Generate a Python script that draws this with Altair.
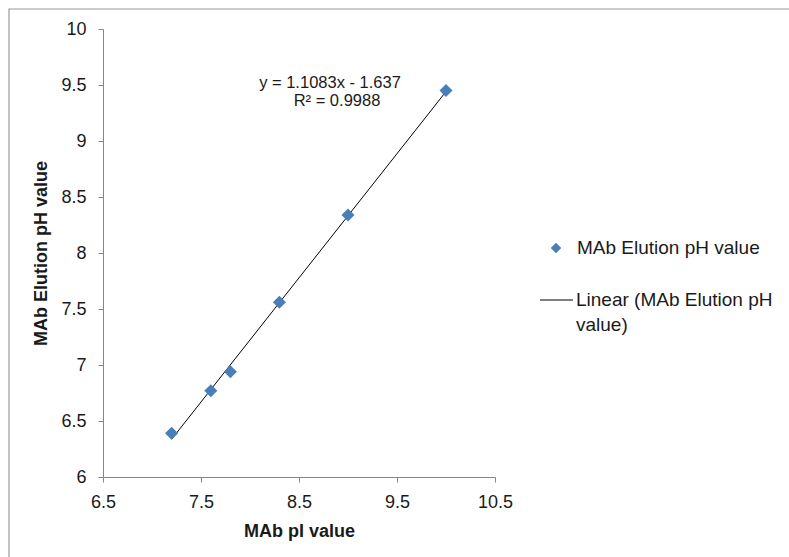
import altair as alt
import pandas as pd

# data
pi_values = [7.2, 7.6, 7.8, 8.3, 9.0, 10.0]
elution_ph = [6.39, 6.77, 6.94, 7.56, 8.34, 9.45]
series_name = "MAb Elution pH value"
trend_name = ["Linear (MAb Elution pH", "value)"]
equation_lines = ["y = 1.1083x - 1.637", "R² = 0.9988"]
x_ticks = [6.5, 7.5, 8.5, 9.5, 10.5]
y_ticks = [6, 6.5, 7, 7.5, 8, 8.5, 9, 9.5, 10]

df = pd.DataFrame({"pI": pi_values, "pH": elution_ph})

FONT = "Liberation Sans"
BLUE = "#4A7EBB"
AXIS_GREY = "#868686"
TXT = "#1a1a1a"

xscale = alt.Scale(domain=[6.5, 10.5], nice=False, zero=False)
yscale = alt.Scale(domain=[6, 10], nice=False, zero=False)

common_axis = dict(grid=False, domainColor=AXIS_GREY, tickColor=AXIS_GREY, tickSize=5,
                   labelFontSize=18, labelFont=FONT, labelColor=TXT,
                   labelFlush=False, labelOverlap=False,
                   titleFontSize=18, titleFont=FONT, titleFontWeight="bold", titleColor=TXT)
xaxis = alt.Axis(values=x_ticks, format="~g", title="MAb pI value", titlePadding=11,
                 labelPadding=11, **common_axis)
yaxis = alt.Axis(values=y_ticks, format="~g", title="MAb Elution pH value", titlePadding=10,
                 labelPadding=12, **common_axis)

base = alt.Chart(df)

points = base.mark_point(shape="diamond", filled=True, size=170, color=BLUE, opacity=1).encode(
    x=alt.X("pI:Q", scale=xscale, axis=xaxis),
    y=alt.Y("pH:Q", scale=yscale, axis=yaxis),
)

trend = base.transform_regression("pI", "pH", extent=[7.2, 10.0]).mark_line(
    color="black", strokeWidth=1
).encode(
    x=alt.X("pI:Q", scale=xscale),
    y=alt.Y("pH:Q", scale=yscale),
)


def text_layer(txt, x, y, align, size):
    return alt.Chart(pd.DataFrame({"t": [txt]})).mark_text(
        font=FONT, fontSize=size, color=TXT, align=align, baseline="middle"
    ).encode(text="t:N", x=alt.value(x), y=alt.value(y))


eq1 = text_layer(equation_lines[0], 227, 54, "center", 16.5)
eq2 = text_layer(equation_lines[1], 234, 72, "center", 16.5)

# legend
leg_pt = alt.Chart(pd.DataFrame({"n": [series_name]})).mark_point(
    shape="diamond", filled=True, size=110, color=BLUE, opacity=1
).encode(x=alt.value(453), y=alt.value(219))
leg_pt_txt = text_layer(series_name, 474, 219, "left", 19)
leg_line = alt.Chart(pd.DataFrame({"n": [trend_name[0]]})).mark_rule(
    color="black", strokeWidth=1
).encode(x=alt.value(437), x2=alt.value(470), y=alt.value(271))
leg_line_txt1 = text_layer(trend_name[0], 473, 271, "left", 19)
leg_line_txt2 = text_layer(trend_name[1], 473, 296, "left", 19)

frame = alt.Chart(pd.DataFrame({"n": [0]})).mark_rect(
    fill=None, stroke="#9a9a9a", strokeWidth=1.2
).encode(x=alt.value(-94), x2=alt.value(720), y=alt.value(-20), y2=alt.value(600))

chart = alt.layer(
    frame, trend, points, eq1, eq2, leg_pt, leg_pt_txt, leg_line, leg_line_txt1, leg_line_txt2
).properties(
    width=392, height=448,
    padding={"left": 103, "top": 29, "right": 294, "bottom": 80},
    autosize=alt.AutoSizeParams(type="none"),
    background="white",
).configure_view(stroke=None)

chart.save("out.html", embed_options={"renderer": "svg", "actions": False})
